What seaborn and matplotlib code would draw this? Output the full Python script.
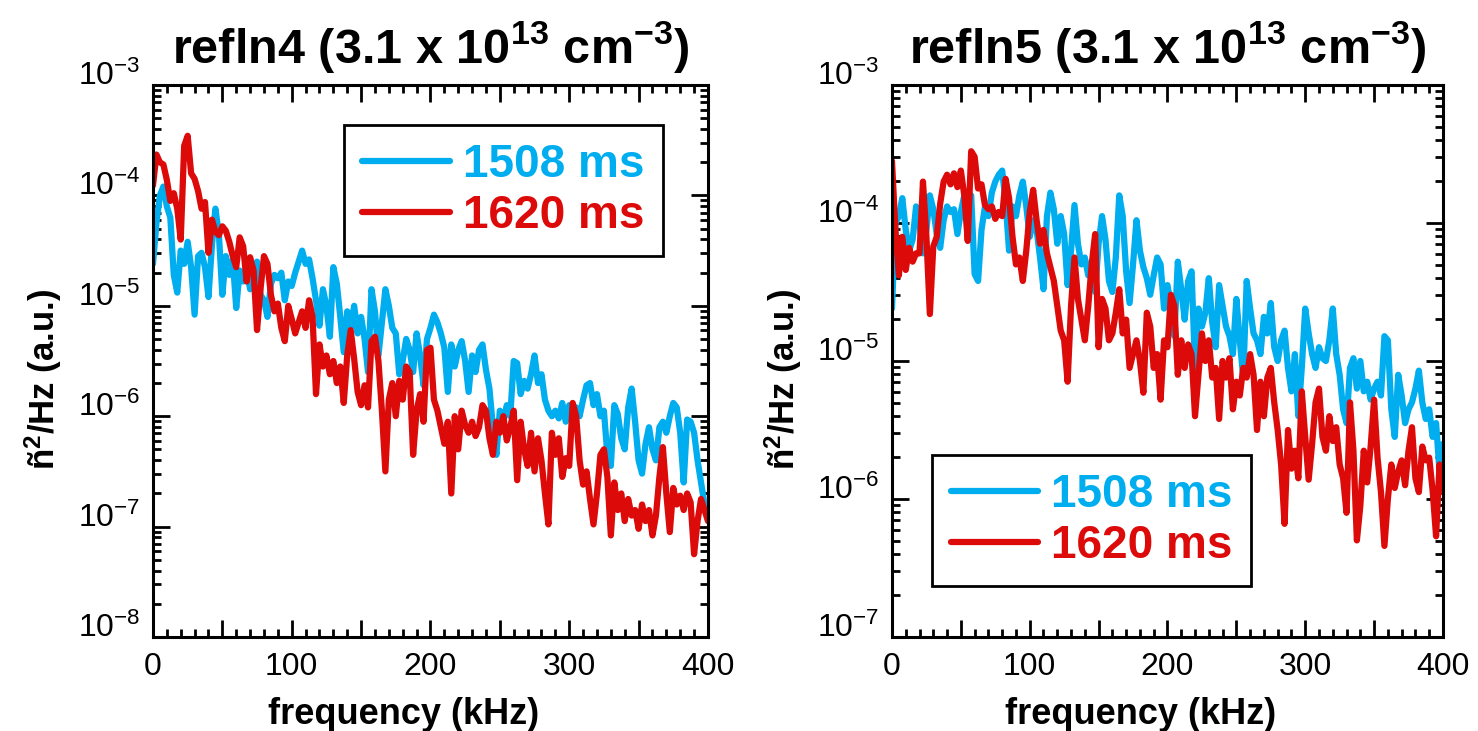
import numpy as np
import pandas as pd
import matplotlib
matplotlib.use("Agg")
import matplotlib.pyplot as plt
from matplotlib.ticker import MultipleLocator, LogLocator, FuncFormatter, NullFormatter
import seaborn as sns

# Fluctuation power spectra (log10 of n~^2/Hz, a.u.) on a 2.5 kHz grid, 0-400 kHz
STEP_KHZ = 2.5
TIMES = ["1508 ms", "1620 ms"]
COLORS = ["#00ADEF", "#DD0A0A"]

refln4_1508 = [
    -4.62, -4.25, -4.00, -3.92, -4.10, -4.20, -4.72, -4.88,
    -4.50, -4.62, -4.42, -4.65, -5.08, -4.55, -4.52, -4.65,
    -4.92, -4.45, -4.12, -4.35, -4.90, -4.55, -4.72, -4.58,
    -5.02, -4.68, -4.78, -4.65, -4.85, -4.75, -4.60, -4.90,
    -4.95, -5.10, -4.80, -4.72, -4.75, -4.70, -4.95, -4.78,
    -4.82, -4.70, -4.60, -4.50, -4.62, -4.58, -4.75, -4.95,
    -5.18, -4.85, -5.00, -5.28, -4.65, -4.80, -5.10, -5.42,
    -5.05, -5.20, -5.00, -5.25, -5.10, -5.30, -5.60, -4.85,
    -5.05, -5.45, -5.15, -4.85, -5.00, -5.20, -5.25, -5.62,
    -5.50, -5.30, -5.40, -5.60, -5.25, -5.45, -5.72, -5.30,
    -5.20, -5.08, -5.15, -5.25, -5.38, -5.78, -5.35, -5.55,
    -5.40, -5.32, -5.50, -5.78, -5.45, -5.60, -5.40, -5.35,
    -5.58, -5.75, -6.10, -6.35, -5.95, -6.05, -5.90, -6.00,
    -5.50, -5.52, -5.80, -5.68, -5.75, -5.62, -5.45, -5.70,
    -5.62, -5.85, -5.95, -6.00, -5.95, -6.02, -5.88, -6.05,
    -5.90, -6.05, -5.92, -6.00, -5.85, -5.72, -5.70, -5.90,
    -5.80, -6.00, -5.95, -6.35, -6.45, -5.90, -5.98, -6.20,
    -6.30, -5.92, -5.75, -6.05, -6.40, -6.52, -6.25, -6.10,
    -6.30, -6.40, -6.10, -6.05, -6.15, -6.00, -5.88, -5.92,
    -6.15, -6.60, -6.03, -6.05, -6.15, -6.40, -6.60, -6.80,
    -6.88,
]

refln4_1620 = [
    -3.91, -3.63, -3.70, -3.72, -3.86, -4.05, -3.98, -4.12,
    -4.40, -3.55, -3.46, -3.80, -3.85, -3.96, -4.12, -4.06,
    -4.52, -4.22, -4.33, -4.36, -4.28, -4.32, -4.42, -4.55,
    -4.65, -4.38, -4.46, -4.78, -4.56, -4.68, -5.22, -4.85,
    -4.55, -4.62, -4.90, -5.05, -4.98, -5.20, -5.32, -5.00,
    -5.12, -5.25, -5.15, -5.05, -5.20, -4.95, -5.10, -5.80,
    -5.35, -5.55, -5.45, -5.62, -5.50, -5.70, -5.55, -5.88,
    -5.45, -5.22, -5.48, -5.78, -5.90, -5.72, -5.92, -5.32,
    -5.28, -5.50, -5.95, -6.50, -5.85, -5.70, -6.00, -5.68,
    -5.85, -5.55, -5.60, -6.35, -5.95, -5.80, -6.05, -5.40,
    -5.38, -5.85, -5.95, -6.10, -6.25, -6.05, -6.70, -6.00,
    -6.30, -5.95, -6.08, -6.15, -6.05, -6.18, -6.10, -5.90,
    -5.95, -6.20, -6.35, -6.05, -6.15, -6.00, -6.22, -6.10,
    -5.95, -6.58, -6.05, -6.30, -6.45, -6.15, -6.50, -6.20,
    -6.40, -6.70, -6.98, -6.15, -6.35, -6.20, -6.55, -6.38,
    -6.45, -5.88, -6.00, -6.40, -6.62, -6.50, -6.75, -6.98,
    -6.70, -6.35, -6.30, -6.55, -7.08, -6.60, -6.85, -6.70,
    -6.95, -6.75, -6.90, -6.85, -7.02, -6.80, -6.95, -6.85,
    -7.08, -6.90, -6.55, -6.28, -6.70, -7.05, -6.65, -6.80,
    -6.72, -6.85, -6.70, -6.78, -7.25, -6.95, -6.75, -6.85,
    -6.95,
]

refln5_1508 = [
    -4.62, -4.00, -3.95, -3.82, -4.05, -4.20, -4.12, -3.88,
    -4.00, -4.22, -4.05, -3.80, -3.90, -4.08, -4.18, -3.98,
    -3.88, -3.92, -3.90, -4.08, -3.92, -3.80, -3.84, -3.80,
    -4.37, -4.42, -4.05, -3.88, -3.95, -3.78, -3.70, -3.65,
    -3.62, -3.85, -4.20, -3.88, -3.95, -3.80, -3.70, -3.88,
    -4.10, -3.98, -4.05, -4.25, -4.48, -3.95, -3.78, -3.90,
    -4.15, -3.95, -4.08, -4.45, -4.20, -3.87, -4.15, -4.30,
    -4.25, -4.38, -4.28, -4.50, -4.15, -3.95, -4.12, -4.42,
    -4.50, -4.25, -3.80, -3.95, -4.35, -4.58, -4.30, -3.98,
    -4.20, -4.32, -4.40, -4.52, -4.38, -4.25, -4.30, -4.62,
    -4.45, -4.60, -4.82, -4.28, -4.48, -4.70, -4.42, -4.35,
    -5.05, -4.62, -4.75, -4.65, -4.40, -4.72, -4.90, -4.45,
    -4.60, -4.75, -4.82, -4.95, -4.55, -4.85, -5.12, -4.42,
    -4.62, -4.80, -4.85, -4.95, -4.68, -4.80, -4.58, -4.90,
    -5.00, -4.85, -4.78, -5.05, -5.22, -4.95, -5.40, -5.05,
    -4.62, -4.80, -4.95, -5.05, -4.90, -4.98, -5.00, -4.85,
    -4.62, -4.95, -5.10, -5.35, -5.45, -5.05, -4.98, -5.20,
    -5.00, -5.22, -5.15, -5.28, -5.20, -5.15, -5.25, -4.82,
    -4.85, -5.35, -5.55, -5.10, -5.25, -5.45, -5.35, -5.30,
    -5.20, -5.07, -5.30, -5.42, -5.35, -5.55, -5.45, -5.80,
    -5.60,
]

refln5_1620 = [
    -3.55, -4.05, -4.38, -4.10, -4.34, -4.18, -4.28, -4.22,
    -4.22, -3.70, -4.10, -4.66, -4.17, -4.10, -3.86, -3.70,
    -3.65, -3.72, -3.64, -3.74, -3.62, -3.80, -4.13, -3.48,
    -3.52, -3.75, -3.72, -3.87, -3.90, -3.88, -3.97, -3.92,
    -3.95, -3.68, -3.82, -4.10, -4.30, -4.25, -4.42, -4.20,
    -3.92, -3.76, -3.98, -4.15, -4.05, -4.22, -4.32, -4.42,
    -4.60, -4.78, -4.85, -5.15, -4.60, -4.25, -4.55, -4.70,
    -4.85, -4.60, -4.30, -4.08, -4.90, -4.55, -4.62, -4.85,
    -4.80, -4.65, -4.48, -4.80, -4.70, -5.05, -4.95, -4.85,
    -5.00, -5.23, -4.65, -4.75, -5.05, -4.95, -5.28, -4.85,
    -4.90, -4.52, -4.60, -5.10, -4.85, -5.05, -4.88, -4.95,
    -5.40, -5.10, -4.80, -5.00, -4.85, -5.12, -5.05, -5.42,
    -5.00, -5.12, -4.98, -5.35, -5.15, -5.25, -5.05, -5.12,
    -4.95, -5.10, -5.50, -5.15, -5.40, -5.12, -5.05, -5.30,
    -5.50, -5.75, -6.18, -5.50, -5.78, -5.65, -5.85, -5.22,
    -5.55, -5.86, -5.60, -5.30, -5.20, -5.55, -5.65, -5.40,
    -5.58, -5.48, -5.75, -5.85, -6.10, -5.30, -5.65, -6.30,
    -6.05, -5.65, -5.88, -5.62, -5.28, -5.70, -5.95, -6.34,
    -6.00, -5.75, -5.92, -5.80, -5.72, -5.90, -5.65, -5.48,
    -5.85, -5.95, -5.62, -5.72, -5.70, -5.94, -6.27, -5.75,
    -5.95,
]

PANELS = [
    dict(channel="refln4", series=[refln4_1508, refln4_1620], ylim=(1e-8, 1e-3),
         legend_loc="upper right", legend_anchor=(0.919, 0.928)),
    dict(channel="refln5", series=[refln5_1508, refln5_1620], ylim=(1e-7, 1e-3),
         legend_loc="lower left", legend_anchor=(0.073, 0.092)),
]
AXES_RECTS = [(0.1035, 0.1286, 0.3755, 0.7551), (0.6035, 0.1286, 0.3728, 0.7551)]


def spectrum_frame(series):
    frames = []
    for label, logs in zip(TIMES, series):
        logs = np.asarray(logs, dtype=float)
        frames.append(pd.DataFrame({
            "freq": STEP_KHZ * np.arange(len(logs)),
            "power": 10.0 ** logs,
            "time": label,
        }))
    return pd.concat(frames, ignore_index=True)


sns.set_style("ticks")
plt.rcParams["font.family"] = ["Liberation Sans", "DejaVu Sans"]
plt.rcParams["mathtext.fontset"] = "custom"
plt.rcParams["mathtext.rm"] = "Liberation Sans"
plt.rcParams["mathtext.it"] = "Liberation Sans:italic"
plt.rcParams["mathtext.bf"] = "Liberation Sans:bold"
for key in ("text.color", "axes.labelcolor", "xtick.color", "ytick.color", "axes.edgecolor"):
    plt.rcParams[key] = "black"

fig = plt.figure(figsize=(14.78, 7.31), dpi=100)
fig.patch.set_facecolor("white")

decade_fmt = FuncFormatter(lambda v, p: r"$10^{%d}$" % int(round(np.log10(v))))
freq_fmt = FuncFormatter(lambda v, p: "%d" % v if abs(v % 100) < 1e-6 else "")

for rect, panel in zip(AXES_RECTS, PANELS):
    ax = fig.add_axes(rect)
    df = spectrum_frame(panel["series"])
    sns.lineplot(data=df, x="freq", y="power", hue="time", hue_order=TIMES,
                 palette=dict(zip(TIMES, COLORS)), estimator=None, sort=False,
                 linewidth=4.5, legend=False, ax=ax)

    ax.set_yscale("log")
    ax.set_xlim(0, 400)
    ax.set_ylim(*panel["ylim"])
    ax.yaxis.set_major_locator(LogLocator(base=10, numticks=12))
    ax.yaxis.set_minor_locator(LogLocator(base=10, subs=np.arange(2, 10), numticks=12))
    ax.yaxis.set_major_formatter(decade_fmt)
    ax.yaxis.set_minor_formatter(NullFormatter())
    ax.xaxis.set_major_locator(MultipleLocator(50))
    ax.xaxis.set_minor_locator(MultipleLocator(10))
    ax.xaxis.set_major_formatter(freq_fmt)

    ax.tick_params(which="both", direction="in", top=True, right=True,
                   width=2, color="black", labelsize=23)
    ax.tick_params(which="major", length=12)
    ax.tick_params(which="minor", length=6)
    ax.tick_params(axis="x", pad=11)
    ax.tick_params(axis="y", pad=9)
    for lab in ax.get_yticklabels():
        lab.set_verticalalignment("baseline")
    for sp in ax.spines.values():
        sp.set_linewidth(2.2)
        sp.set_color("black")

    ax.set_title(panel["channel"] + r" (3.1 x 10$^{\mathbf{13}}$ cm$^{\mathbf{-3}}$)",
                 fontsize=35, fontweight="bold", pad=16)
    ax.set_xlabel("frequency (kHz)", fontsize=26, fontweight="bold")
    ax.set_ylabel(r"ñ$^{\mathbf{2}}$/Hz (a.u.)", fontsize=25, fontweight="bold")
    ax.xaxis.set_label_coords(0.452, -0.108)
    ax.yaxis.set_label_coords(-0.16, 0.466)

    leg = ax.legend(ax.get_lines()[:2], TIMES, loc=panel["legend_loc"],
                    bbox_to_anchor=panel["legend_anchor"], frameon=True,
                    fancybox=False, edgecolor="black", framealpha=1,
                    borderaxespad=0, handlelength=1.9, handletextpad=0.3,
                    borderpad=0.4, labelspacing=0.15,
                    prop={"weight": "bold", "size": 33})
    leg.get_frame().set_linewidth(2)
    for txt, c in zip(leg.get_texts(), COLORS):
        txt.set_color(c)

fig.savefig("out.png", dpi=100)
